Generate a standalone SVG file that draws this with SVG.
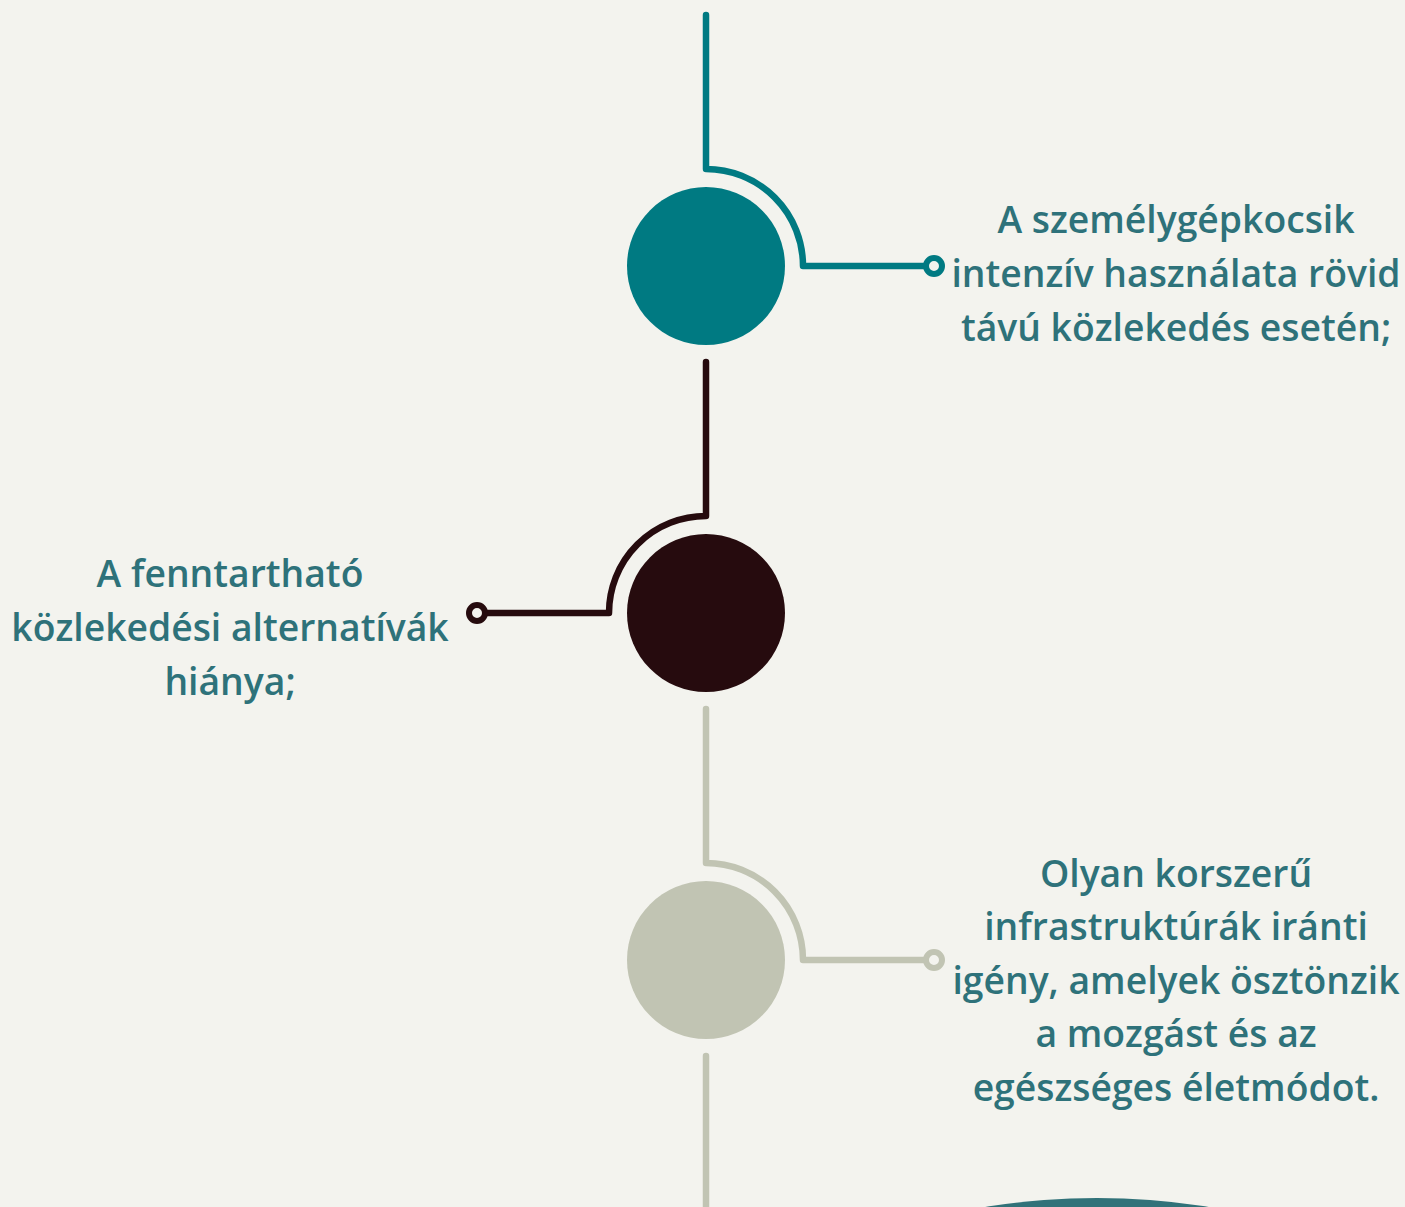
<svg xmlns="http://www.w3.org/2000/svg" width="1405" height="1207" viewBox="0 0 1405 1207">
<style>
.t{font-family:"Open Sans","Noto Sans",sans-serif;font-weight:600;font-size:37.3px;fill:#2E727A;text-anchor:middle}
.c{fill:none;stroke-width:6.5;stroke-linecap:round;stroke-linejoin:round}
.r{stroke-width:6}
</style>
<rect width="1405" height="1207" fill="#F3F3EE"/>
<g id="connectors">
<path class="c" stroke="#007A82" d="M706,15 V169 A97,97 0 0 1 803,266 H926"/>
<circle class="r" cx="934" cy="266" r="8" fill="#F3F3EE" stroke="#007A82"/>
<path class="c" stroke="#260B0E" d="M706,362 V516 A97,97 0 0 0 609,613 H486"/>
<circle class="r" cx="477" cy="613" r="8" fill="#F3F3EE" stroke="#260B0E"/>
<path class="c" stroke="#C1C4B3" d="M706,709 V863 A97,97 0 0 1 803,960 H926"/>
<circle class="r" cx="934" cy="960" r="8" fill="#F3F3EE" stroke="#C1C4B3"/>
<path class="c" stroke="#C1C4B3" d="M706,1056 V1215"/>
</g>
<g id="node1">
<circle cx="706" cy="266" r="79" fill="#007A82"/>
<text class="t" x="1176" y="233">A személygépkocsik</text>
<text class="t" x="1176" y="287">intenzív használata rövid</text>
<text class="t" x="1176" y="341">távú közlekedés esetén;</text>
</g>
<g id="node2">
<circle cx="706" cy="613" r="79" fill="#260B0E"/>
<text class="t" x="230" y="587">A fenntartható</text>
<text class="t" x="230" y="641">közlekedési alternatívák</text>
<text class="t" x="230" y="695">hiánya;</text>
</g>
<g id="node3">
<circle cx="706" cy="960" r="79" fill="#C1C4B3"/>
<text class="t" x="1176" y="887">Olyan korszerű</text>
<text class="t" x="1176" y="940">infrastruktúrák iránti</text>
<text class="t" x="1176" y="994">igény, amelyek ösztönzik</text>
<text class="t" x="1176" y="1047">a mozgást és az</text>
<text class="t" x="1176" y="1101">egészséges életmódot.</text>
</g>
<g id="node4">
<ellipse cx="1097" cy="1300" rx="272" ry="102" fill="#317279"/>
</g>
</svg>
